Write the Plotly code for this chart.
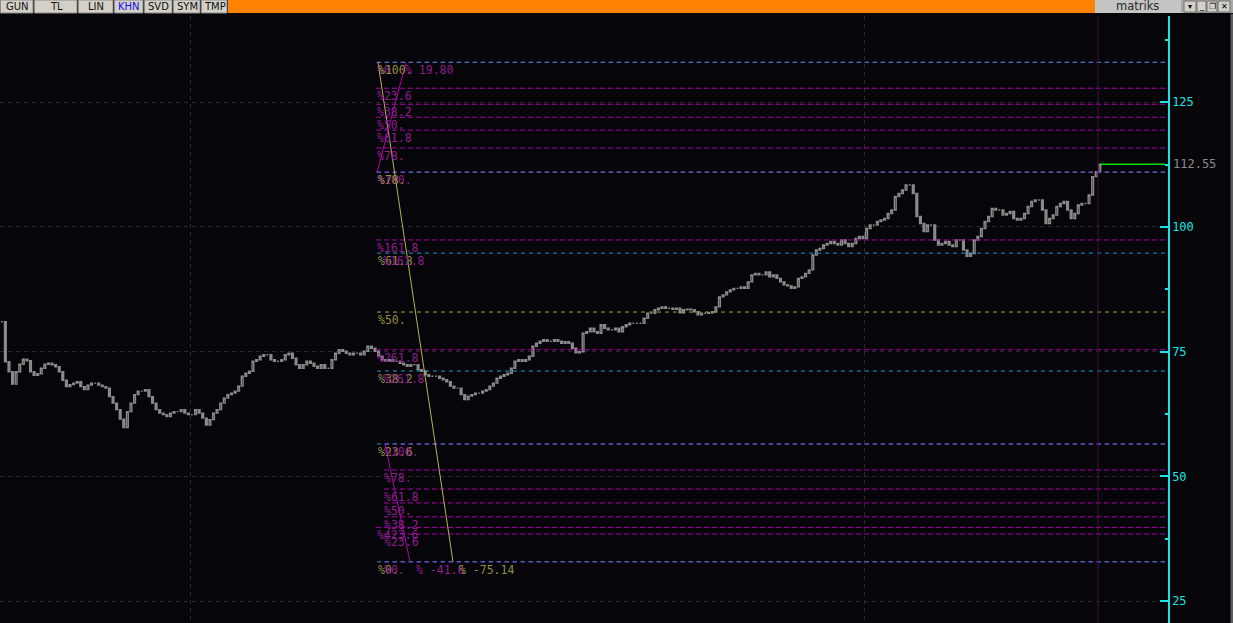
import plotly.graph_objects as go

# ---------------- data ----------------
closes_left = [
    81.0, 73.0, 71.0, 68.5, 71.0, 72.5, 73.5, 73.2, 71.0, 70.3,
    70.6, 71.7, 72.5, 72.7, 72.4, 72.0, 71.0, 69.3, 68.0, 68.4,
    68.7, 69.0, 68.0, 67.4, 68.3, 68.7, 68.7, 68.3, 68.0, 67.7,
    66.0, 64.7, 63.4, 61.5, 59.8, 63.0, 64.7, 66.4, 67.1, 67.1,
    67.4, 66.0, 64.7, 63.4, 62.7, 62.4, 62.0, 62.7, 63.0, 63.0,
    63.4, 62.7, 62.4, 62.4, 63.4, 62.7, 61.7, 60.3, 61.4, 62.7,
    63.4, 64.7, 65.7, 66.4, 66.7, 67.1, 68.1, 70.1, 70.7, 71.1,
    73.1, 73.4, 74.1, 74.4, 74.4, 73.4, 73.1, 73.1, 73.4, 74.4,
    74.7, 73.7, 72.4, 71.7, 72.4, 73.1, 72.7, 72.1, 71.7, 72.4,
    71.7, 71.7, 73.4, 74.7, 75.4, 75.1, 74.7, 74.4, 74.7, 74.7,
    74.4, 75.1, 76.1, 75.7, 75.1, 74.1, 73.4, 73.1, 73.4, 73.1,
    73.1, 72.7, 72.4, 72.1, 72.4, 72.4, 71.4, 71.1, 70.4, 70.1,
    70.1, 70.1, 69.7, 69.4, 69.0, 68.1, 67.7, 67.7, 66.4, 65.4,
    66.1, 66.4, 66.7, 66.7, 67.1, 67.4, 68.1, 68.7, 69.7, 70.1,
    70.4, 70.7, 71.7, 73.1, 73.4, 73.1, 73.4, 74.1, 76.1, 76.7,
    77.1, 77.4, 77.1, 77.1, 77.4, 77.1, 76.7,
]
closes_right = [
    77.0, 76.7, 75.7, 74.8, 75.0, 78.7, 79.0, 79.7, 79.0, 78.7,
    80.4, 79.7, 79.4, 79.4, 79.7, 79.0, 80.0, 80.4, 80.7, 80.7,
    80.7, 80.7, 81.7, 82.7, 82.7, 83.4, 83.7, 84.0, 83.7, 83.7,
    83.5, 83.7, 82.8, 83.4, 83.5, 83.4, 83.0, 82.4, 82.7, 82.7,
    82.8, 83.0, 84.0, 86.0, 86.4, 87.0, 87.4, 87.7, 87.7, 88.0,
    87.7, 89.0, 90.4, 90.7, 90.4, 90.4, 91.0, 90.0, 90.4, 89.7,
    89.0, 88.4, 88.2, 87.7, 88.0, 89.7, 90.0, 90.7, 91.4, 94.4,
    95.4, 95.7, 96.4, 96.7, 97.1, 96.7, 96.4, 97.4, 96.7, 96.1,
    96.7, 97.7, 98.1, 97.7, 99.7, 100.4, 100.4, 101.1, 101.4, 101.7,
    102.7, 103.4, 106.1, 106.7, 107.4, 108.4, 108.4, 106.7, 102.1, 100.7,
    99.1, 100.4, 100.4, 97.4, 96.4, 96.7, 97.1, 96.4, 96.1, 97.4,
    97.4, 95.4, 94.1, 94.7, 97.4, 98.1, 99.7, 101.1, 102.1, 103.7,
    103.4, 103.4, 102.4, 102.7, 103.1, 101.7, 101.4, 101.7, 102.7, 104.1,
    105.1, 105.4, 105.4, 103.4, 100.7, 101.7, 102.4, 104.1, 104.7, 105.1,
    103.4, 101.7, 102.7, 104.4, 104.7, 104.7, 106.4, 110.1, 111.1, 112.55,
]
last_price = 112.55
last_price_text = "112.55"

# separators (bar index) and cursor
separator_idx = [52.45, 240.3]
cursor_idx = 305.5

# Fibonacci tool 1 (magenta, upper)
fib1_p0, fib1_p100 = 133.0, 111.0
fib1_ratios = [0, 23.6, 38.2, 50, 61.8, 78, 100, 161.8, 261.8, 423.6]
fib1_diag_idx = [104.6, 112.65]          # from 100% point to 0% point
fib1_start_idx, fib1_label_idx = 104.3, 104.56

# Fibonacci tool 2 (olive)
fib2_p0, fib2_p100 = 32.9, 133.0
fib2_ratios = [0, 23.6, 38.2, 50, 61.8, 78, 100]
fib2_diag_idx = [104.84, 125.74]         # from 100% point to 0% point
fib2_start_idx, fib2_label_idx = 104.56, 104.84

# Fibonacci tool 3 (magenta, lower)
fib3_p0, fib3_p100 = 32.9, 56.5
fib3_ratios = [0, 23.6, 38.2, 50, 61.8, 78, 100]
fib3_diag_idx = [106.8, 113.76]          # from 100% point to 0% point
fib3_start_idx, fib3_label_idx = 106.5, 106.5

fib_end_idx = 324.2

# percentage-change labels of the tools
change_texts = ["% 19.80", "% -41.6", "% -75.14"]
change_idx = [112.4, 115.4, 127.4]
change_levels = [133.0, 32.9, 32.9]

# overlapping duplicate labels
echo_texts = ["%161.8", "%261.8"]
echo_levels = [94.79, 71.14]
echo_idx = 106.24

ytick_vals = [25, 50, 75, 100, 125]
ytick_minor = [37.5, 62.5, 87.5, 112.5, 137.5]

toolbar_labels = ["GUN", "TL", "LIN", "KHN", "SVD", "SYM", "TMP"]
toolbar_edges = [0, 34, 78, 114, 144, 173, 201, 228]
window_glyphs = ["▾", "_", "❐", "✕"]
window_edges = [(1184, 1196), (1197, 1206), (1207, 1217), (1218, 1230)]

# ---------------- styles ----------------
BG = "#060509"
GRAY = "#8a8a8a"
CYAN = "#19e3e3"
MAG_LINE = "#b000b0"
MAG_TEXT = "#8e1e8e"
OLV_LINE = "#a0a045"
OLV_TEXT = "#8e8e42"
BLUE_LINE = "#1e9ad2"
GRID = "#2a2a2a"
FONT = "DejaVu Sans Mono"

W, H = 1233, 623
ML, MR, MT, MB = 0, 65, 16, 0
PW, PH = W - ML - MR, H - MT - MB


def px(xp):
    return (xp - ML) / PW


def py(yp):
    return (H - MB - yp) / PH


closes = closes_left + closes_right
idx = list(range(len(closes)))
opens = [closes[0]] + closes[:-1]
highs = [max(o, c) for o, c in zip(opens, closes)]
lows = [min(o, c) for o, c in zip(opens, closes)]

fig = go.Figure()
fig.add_trace(go.Candlestick(
    x=idx, open=opens, high=highs, low=lows, close=closes,
    increasing=dict(line=dict(color=GRAY, width=1.4), fillcolor=BG),
    decreasing=dict(line=dict(color=GRAY, width=1.4), fillcolor=GRAY),
    whiskerwidth=0, hoverinfo="skip", showlegend=False,
))


def level(p0, p100, r):
    return p0 + r / 100.0 * (p100 - p0)


def fmt(r):
    return "%" + (f"{int(r)}." if float(r).is_integer() else f"{r}")


def add_levels(p0, p100, ratios, x0, colors, dash):
    groups = {}
    for r, col in zip(ratios, colors):
        v = level(p0, p100, r)
        gx, gy = groups.setdefault(col, ([], []))
        gx += [x0, fib_end_idx, None]
        gy += [v, v, None]
    for col, (gx, gy) in groups.items():
        fig.add_trace(go.Scatter(x=gx, y=gy, mode="lines",
                                 line=dict(color=col, width=1, dash=dash),
                                 hoverinfo="skip", showlegend=False))


fib2_colors = [BLUE_LINE if r != 50 else OLV_LINE for r in fib2_ratios]
add_levels(fib1_p0, fib1_p100, fib1_ratios, fib1_start_idx, [MAG_LINE] * len(fib1_ratios), "5px,3px")
add_levels(fib3_p0, fib3_p100, fib3_ratios, fib3_start_idx, [MAG_LINE] * len(fib3_ratios), "5px,3px")
add_levels(fib2_p0, fib2_p100, fib2_ratios, fib2_start_idx, fib2_colors, "4px,4px")

# diagonals of the tools
fig.add_trace(go.Scatter(x=fib2_diag_idx, y=[fib2_p100, fib2_p0], mode="lines",
                         line=dict(color="#b4b44c", width=1), hoverinfo="skip", showlegend=False))
fig.add_trace(go.Scatter(x=fib1_diag_idx, y=[fib1_p100, fib1_p0], mode="lines",
                         line=dict(color=MAG_LINE, width=1), hoverinfo="skip", showlegend=False))
fig.add_trace(go.Scatter(x=fib3_diag_idx, y=[fib3_p100, fib3_p0], mode="lines",
                         line=dict(color=MAG_LINE, width=1), hoverinfo="skip", showlegend=False))

# last price line
fig.add_trace(go.Scatter(x=[cursor_idx + 0.55, fib_end_idx], y=[last_price, last_price], mode="lines",
                         line=dict(color="#00e600", width=1.5), hoverinfo="skip", showlegend=False))

annotations = []


def lab(x, y, text, color):
    annotations.append(dict(x=x, y=y, xref="x", yref="y", text=text, showarrow=False,
                            xanchor="left", yanchor="top", yshift=1, xshift=-2,
                            font=dict(family=FONT, size=11.5, color=color)))


for r in fib1_ratios:
    lab(fib1_label_idx, level(fib1_p0, fib1_p100, r), fmt(r), MAG_TEXT)
for r in fib2_ratios:
    lab(fib2_label_idx, level(fib2_p0, fib2_p100, r), fmt(r), OLV_TEXT)
for r in fib3_ratios:
    lab(fib3_label_idx, level(fib3_p0, fib3_p100, r), fmt(r), MAG_TEXT)
for t, v in zip(echo_texts, echo_levels):
    lab(echo_idx, v, t, MAG_TEXT)
for t, xi, v, c in zip(change_texts, change_idx, change_levels, [MAG_TEXT, MAG_TEXT, OLV_TEXT]):
    lab(xi, v, t, c)

annotations.append(dict(x=px(1171), y=last_price, xref="paper", yref="y", text=last_price_text,
                        showarrow=False, xanchor="left", yanchor="middle",
                        font=dict(family=FONT, size=12, color="#8a8a8a")))

shapes = []
# cursor vertical line
shapes.append(dict(type="line", xref="x", yref="paper", x0=cursor_idx, x1=cursor_idx, y0=0, y1=1,
                   line=dict(color="#4e0c4e", width=1)))
# right edge strip
shapes.append(dict(type="rect", xref="paper", yref="paper", x0=px(1230.5), x1=px(1233), y0=0, y1=py(14),
                   fillcolor="#5c5c5c", line=dict(width=0)))

# toolbar
for i, t in enumerate(toolbar_labels):
    e0, e1 = toolbar_edges[i], toolbar_edges[i + 1]
    shapes.append(dict(type="rect", xref="paper", yref="paper", x0=px(e0 + 0.5), x1=px(e1 - 1),
                       y0=py(13), y1=py(0), fillcolor="#d4d0c8", line=dict(color="#8a8a8a", width=1)))
    annotations.append(dict(x=px((e0 + e1) / 2), y=py(6.5), xref="paper", yref="paper", text=t,
                            showarrow=False, xanchor="center", yanchor="middle",
                            font=dict(family="DejaVu Sans", size=10,
                                      color="#1010ee" if t == "KHN" else "#101010")))
shapes.append(dict(type="rect", xref="paper", yref="paper", x0=px(228), x1=px(1095),
                   y0=py(13), y1=py(0), fillcolor="#ff8200", line=dict(width=0)))
shapes.append(dict(type="rect", xref="paper", yref="paper", x0=px(1095), x1=px(1181),
                   y0=py(13), y1=py(0), fillcolor="#c4c4c4", line=dict(width=0)))
annotations.append(dict(x=px(1137), y=py(6.5), xref="paper", yref="paper", text="matriks",
                        showarrow=False, xanchor="center", yanchor="middle", borderpad=0,
                        font=dict(family="DejaVu Sans", size=11.5, color="#2a2a2a")))
shapes.append(dict(type="rect", xref="paper", yref="paper", x0=px(1181), x1=px(1233),
                   y0=py(13), y1=py(0), fillcolor="#a8a8a8", line=dict(width=0)))
for g, (a, b) in zip(window_glyphs, window_edges):
    shapes.append(dict(type="rect", xref="paper", yref="paper", x0=px(a), x1=px(b),
                       y0=py(12), y1=py(1), fillcolor="#d4d0c8", line=dict(color="#707070", width=1)))
    annotations.append(dict(x=px((a + b) / 2), y=py(6.5), xref="paper", yref="paper", text=g,
                            showarrow=False, xanchor="center", yanchor="middle", borderpad=0,
                            font=dict(family="DejaVu Sans", size=8, color="#000000")))

fig.update_layout(
    width=W, height=H,
    margin=dict(l=ML, r=MR, t=MT, b=MB, autoexpand=False),
    paper_bgcolor=BG, plot_bgcolor=BG,
    showlegend=False,
    shapes=shapes, annotations=annotations,
    xaxis=dict(range=[-0.5, 325.0], showticklabels=False, ticks="", tickvals=separator_idx,
               showgrid=True, gridcolor=GRID, griddash="4px,4px", gridwidth=1,
               zeroline=False, showline=False, rangeslider=dict(visible=False), fixedrange=True),
    yaxis=dict(range=[20.64, 142.28], side="right", tickvals=ytick_vals,
               ticks="inside", ticklen=8, tickwidth=1.5, tickcolor=CYAN,
               showline=True, linecolor=CYAN, linewidth=1.5,
               tickfont=dict(family=FONT, size=12, color=CYAN),
               showgrid=True, gridcolor=GRID, griddash="4px,4px", gridwidth=1,
               zeroline=False, automargin=False, fixedrange=True,
               minor=dict(tickvals=ytick_minor, ticks="inside", ticklen=3, tickcolor=CYAN,
                          tickwidth=1.5, showgrid=False)),
)

fig.write_html("out.html", config={"displayModeBar": False},
               post_script="document.body.style.margin='0px';document.body.style.background='%s';" % BG)
